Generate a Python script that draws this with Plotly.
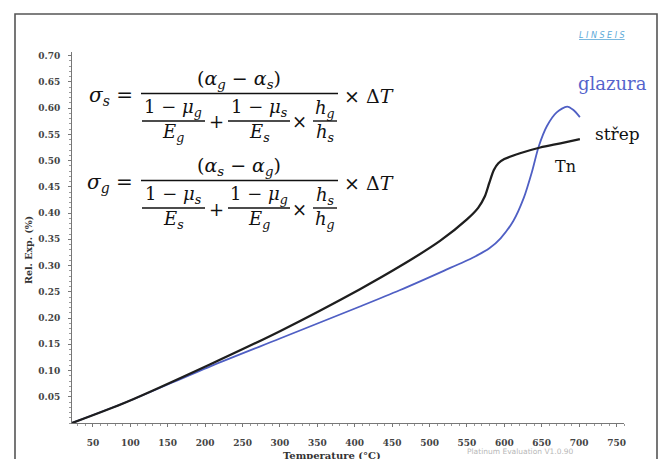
import plotly.graph_objects as go

# ---- data ----
temp_strep = [22, 95, 207, 300, 407, 461, 514, 550, 565, 574, 580, 586, 592, 600, 621, 648, 675, 701]
exp_strep = [0.0, 0.040, 0.112, 0.175, 0.255, 0.299, 0.347, 0.388, 0.410, 0.432, 0.458, 0.482, 0.495, 0.503,
             0.514, 0.525, 0.533, 0.541]

temp_glazura = [22, 95, 207, 300, 407, 460, 519, 559, 580, 595, 612, 626, 637, 646, 657, 670, 684, 692, 701]
exp_glazura = [0.0, 0.040, 0.108, 0.161, 0.222, 0.253, 0.290, 0.316, 0.333, 0.352, 0.385, 0.429, 0.479, 0.527,
               0.566, 0.592, 0.603, 0.597, 0.583]

x_ticks = [50, 100, 150, 200, 250, 300, 350, 400, 450, 500, 550, 600, 650, 700, 750]
y_ticks = [0.05, 0.10, 0.15, 0.20, 0.25, 0.30, 0.35, 0.40, 0.45, 0.50, 0.55, 0.60, 0.65, 0.70]
y_tick_text = ["%.2f" % v for v in y_ticks]

# ---- geometry helpers (pixel -> paper) ----
W, H = 663, 459
L, R, T, B = 72, 39, 52, 36
PW, PH = W - L - R, H - T - B


def px(x):
    return (x - L) / PW


def py(y):
    return (H - B - y) / PH


fig = go.Figure()
fig.add_trace(go.Scatter(x=temp_glazura, y=exp_glazura, mode="lines",
                         line=dict(color="#4f5fc4", width=1.8, shape="spline", smoothing=0.8),
                         showlegend=False, hoverinfo="skip"))
fig.add_trace(go.Scatter(x=temp_strep, y=exp_strep, mode="lines",
                         line=dict(color="#1e1e1e", width=2.3, shape="spline", smoothing=0.8),
                         showlegend=False, hoverinfo="skip"))

tickfont = dict(family="DejaVu Serif", size=9, color="#444444")
fig.update_xaxes(range=[22, 760], tickvals=x_ticks, ticktext=["<b>%d</b>" % v for v in x_ticks],
                 tickfont=tickfont,
                 showline=True, linecolor="#777777", linewidth=1,
                 ticks="outside", ticklen=3, tickcolor="#777777",
                 minor=dict(dtick=10, ticks="outside", ticklen=2, tickcolor="#999999"),
                 showgrid=False, zeroline=False, ticklabelstandoff=8)
fig.update_yaxes(range=[0, 0.707], tickvals=y_ticks, ticktext=["<b>%s</b>" % t for t in y_tick_text],
                 tickfont=tickfont,
                 showline=True, linecolor="#777777", linewidth=1,
                 ticks="outside", ticklen=3, tickcolor="#777777",
                 minor=dict(dtick=0.01, ticks="outside", ticklen=2, tickcolor="#999999"),
                 showgrid=False, zeroline=False, ticklabelstandoff=6)

ann = []
shapes = []


def text(x, y, s, size=18, color="#111111", family="DejaVu Serif", xanchor="center", angle=0):
    ann.append(dict(x=px(x), y=py(y), xref="paper", yref="paper", text=s, showarrow=False,
                    xanchor=xanchor, yanchor="middle", textangle=angle,
                    font=dict(family=family, size=size, color=color)))


def bar(x0, x1, y):
    shapes.append(dict(type="line", xref="paper", yref="paper", x0=px(x0), x1=px(x1),
                       y0=py(y), y1=py(y), line=dict(color="#111111", width=1.4)))


def formula(dy, lhs, num, f1n, f1d, f2n, f2d, hn, hd):
    text(135, 96 + dy, lhs, size=20, xanchor="right")
    text(239, 79 + dy, num, size=19)
    bar(141, 338, 93.5 + dy)
    text(173, 108 + dy, f1n, size=18)
    bar(142, 205, 121 + dy)
    text(173, 133 + dy, f1d, size=18)
    text(216, 122 + dy, "+", size=18)
    text(259, 108 + dy, f2n, size=18)
    bar(228, 290, 121 + dy)
    text(259, 133 + dy, f2d, size=18)
    text(299, 122 + dy, "×", size=18)
    text(325, 109 + dy, hn, size=18)
    bar(313, 337, 121 + dy)
    text(325, 133 + dy, hd, size=18)
    text(342, 96 + dy, "× Δ<i>T</i>", size=19, xanchor="left")


formula(0, "<i>σ<sub>s</sub></i> =", "(<i>α<sub>g</sub></i> − <i>α<sub>s</sub></i>)",
        "1 − <i>μ<sub>g</sub></i>", "<i>E<sub>g</sub></i>",
        "1 − <i>μ<sub>s</sub></i>", "<i>E<sub>s</sub></i>",
        "<i>h<sub>g</sub></i>", "<i>h<sub>s</sub></i>")
formula(87, "<i>σ<sub>g</sub></i> =", "(<i>α<sub>s</sub></i> − <i>α<sub>g</sub></i>)",
        "1 − <i>μ<sub>s</sub></i>", "<i>E<sub>s</sub></i>",
        "1 − <i>μ<sub>g</sub></i>", "<i>E<sub>g</sub></i>",
        "<i>h<sub>s</sub></i>", "<i>h<sub>g</sub></i>")

# series labels
text(612, 83, "glazura", size=18, color="#5563cc")
text(617, 134, "střep", size=17, color="#111111")
text(565, 166, "Tn", size=16, color="#111111")

# axis titles and other texts
text(28, 250, "<b>Rel. Exp. (%)</b>", size=9.5, color="#333333", angle=-90)
text(332, 455, "<b>Temperature (°C)</b>", size=10, color="#333333")
text(520, 451, "Platinum Evaluation V1.0.90", size=7.5, color="#b8b8b8", family="DejaVu Sans")
text(602, 36, "<i><u>L I N S E I S</u></i>", size=8, color="#5aa8d8", family="DejaVu Sans")

# outer frame
shapes.append(dict(type="rect", xref="paper", yref="paper",
                   x0=px(15), x1=px(657), y0=py(480), y1=py(14),
                   line=dict(color="#555555", width=1.6)))

fig.update_layout(width=W, height=H, margin=dict(l=L, r=R, t=T, b=B),
                  plot_bgcolor="white", paper_bgcolor="white",
                  annotations=ann, shapes=shapes, showlegend=False)

fig.write_html("out.html")
